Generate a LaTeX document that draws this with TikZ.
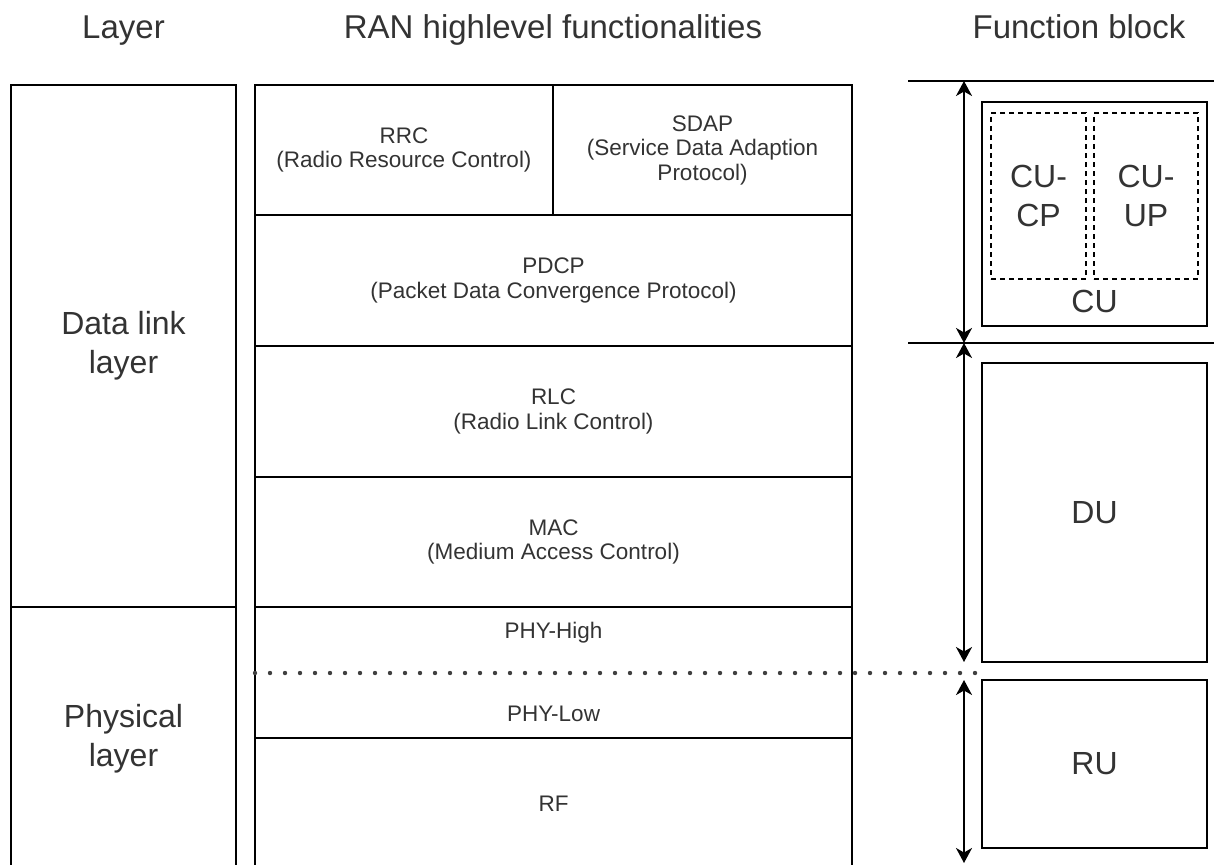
\documentclass[tikz,border=0pt]{standalone}
\usepackage{fontspec}
\setmainfont{Liberation Sans}
\usepackage{tikz}
\usetikzlibrary{arrows.meta}

\begin{document}
\begin{tikzpicture}[
  x=1pt, y=-1pt,
  >={Stealth[length=15pt,width=16pt,inset=4.5pt]},
  line join=miter,
  every node/.style={text=black!80},
  head/.style={font=\fontsize{33}{39}\selectfont, anchor=base},
  big/.style={font=\fontsize{32}{39}\selectfont, align=center},
  small/.style={font=\fontsize{22.5}{24.5}\selectfont, align=center},
  blk/.style={draw=black, line width=1.8pt, inner sep=0pt, outer sep=0pt},
  dashblk/.style={draw=black, line width=1.4pt, dash pattern=on 5pt off 4pt,
    inner sep=0pt, outer sep=0pt},
  rule/.style={line width=1.8pt},
  span/.style={<->, line width=1.8pt}
]
  \clip (0,0) rectangle (1214,864);

  % Column headings
  \node[head] (h-layer) at (123.5,39) {Layer};
  \node[head] (h-ran)   at (553,39)   {RAN highlevel functionalities};
  \node[head] (h-fb)    at (1079,39)  {Function block};

  % Layer column
  \node[blk, big, minimum width=225pt, minimum height=522pt] (dll) at (123.5,346)
    {Data link\\layer};
  \node[blk, big, minimum width=225pt, minimum height=263pt] (phl) at (123.5,738.5)
    {Physical\\layer};

  % RAN functionalities
  \node[blk, small, minimum width=298pt, minimum height=130pt] (rrc) at (404,150)
    {RRC\\(Radio Resource Control)};
  \node[blk, small, minimum width=299pt, minimum height=130pt] (sdap) at (702.5,150)
    {SDAP\\(Service Data Adaption\\Protocol)};
  \node[blk, small, minimum width=597pt, minimum height=131pt] (pdcp) at (553.5,280.5)
    {PDCP\\(Packet Data Convergence Protocol)};
  \node[blk, small, minimum width=597pt, minimum height=131pt] (rlc) at (553.5,411.5)
    {RLC\\(Radio Link Control)};
  \node[blk, small, minimum width=597pt, minimum height=130pt] (mac) at (553.5,542)
    {MAC\\(Medium Access Control)};
  \node[blk, minimum width=597pt, minimum height=131pt] (phy) at (553.5,672.5) {};
  \node[small] (phy-high) at (553.5,633) {PHY-High};
  \node[small] (phy-low)  at (553.5,714) {PHY-Low};
  \node[blk, small, minimum width=597pt, minimum height=132pt] (rf) at (553.5,804)
    {RF};

  % Split between DU and RU
  \coordinate (split-l) at (255,673);
  \coordinate (split-r) at (988,673);
  \draw[black!75, line width=4.4pt, line cap=round, dash pattern=on 0pt off 15pt]
    (split-l) -- (split-r);

  % Function blocks
  \node[blk, minimum width=225pt, minimum height=224pt] (cu) at (1094.5,214) {};
  \node[dashblk, big, minimum width=95pt, minimum height=166pt] (cu-cp) at (1038.5,196)
    {CU-\\CP};
  \node[dashblk, big, minimum width=104pt, minimum height=166pt] (cu-up) at (1146,196)
    {CU-\\UP};
  \node[big] (cu-name) at (1094.5,301) {CU};
  \node[blk, big, minimum width=225pt, minimum height=299pt] (du) at (1094.5,512.5) {DU};
  \node[blk, big, minimum width=225pt, minimum height=168pt] (ru) at (1094.5,764) {RU};

  % Boundaries and extents
  \coordinate (top-l) at (908,81);
  \coordinate (top-r) at (1220,81);
  \coordinate (mid-l) at (908,343);
  \coordinate (mid-r) at (1220,343);
  \draw[rule] (top-l) -- (top-r);
  \draw[rule] (mid-l) -- (mid-r);

  \coordinate (cu-top) at (964,81);
  \coordinate (cu-bot) at (964,343);
  \coordinate (du-bot) at (964,662);
  \coordinate (ru-top) at (964,680);
  \coordinate (ru-bot) at (964,863);
  \draw[span] (cu-top) -- (cu-bot);
  \draw[span] (cu-bot) -- (du-bot);
  \draw[span] (ru-top) -- (ru-bot);
\end{tikzpicture}
\end{document}
